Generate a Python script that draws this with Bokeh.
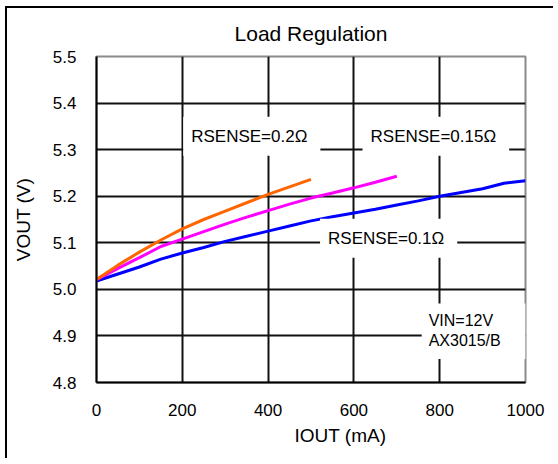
from bokeh.plotting import figure
from bokeh.models import Range1d, FixedTicker, Label, Title
from bokeh.embed import file_html
from bokeh.resources import INLINE

# ---- data ----
iout_02 = [0, 50, 100, 150, 200, 250, 300, 350, 400, 450, 500]
vout_02 = [5.021, 5.052, 5.080, 5.106, 5.130, 5.150, 5.168, 5.186, 5.204, 5.220, 5.236]

iout_015 = [0, 50, 100, 150, 200, 250, 300, 350, 400, 450, 500, 550, 600, 650, 700]
vout_015 = [5.021, 5.045, 5.068, 5.092, 5.108, 5.124, 5.140, 5.155, 5.169, 5.183,
            5.196, 5.207, 5.218, 5.230, 5.243]

iout_01 = [0, 50, 100, 150, 200, 250, 300, 350, 400, 450, 500, 550, 600, 650, 700,
           750, 800, 850, 900, 950, 1000]
vout_01 = [5.018, 5.033, 5.048, 5.065, 5.078, 5.090, 5.103, 5.114, 5.125, 5.136,
           5.147, 5.156, 5.164, 5.172, 5.181, 5.190, 5.200, 5.208, 5.216, 5.228, 5.233]

x_ticks = [0, 200, 400, 600, 800, 1000]
y_ticks = [4.8, 4.9, 5.0, 5.1, 5.2, 5.3, 5.4, 5.5]
y_tick_labels = {t: f"{t:.1f}" for t in y_ticks}

FONT = "'Liberation Sans Narrow', 'Liberation Sans', Arial, sans-serif"

p = figure(width=548, height=452, output_backend="svg", toolbar_location=None,
           x_range=Range1d(0, 1000), y_range=Range1d(4.8, 5.5),
           min_border_left=89, min_border_right=30, min_border_top=48, min_border_bottom=78,
           title="Load Regulation", margin=(6, 0, 0, 5))

p.styles = {"border-left": "2px solid black", "border-top": "2px solid black"}

p.title.align = "center"
p.title.text_font = FONT
p.title.text_font_size = "21px"
p.title.text_font_style = "normal"
p.title.text_color = "black"
p.title.text_line_height = 0.9
p.title.standoff = 23

p.outline_line_color = "#8a8a8a"
p.outline_line_width = 2

for ax in (p.xaxis[0], p.yaxis[0]):
    ax.axis_line_color = "black"
    ax.axis_line_width = 2
    ax.major_tick_line_color = None
    ax.minor_tick_line_color = None
    ax.major_tick_out = 0
    ax.major_tick_in = 0
    ax.major_label_text_font = FONT
    ax.major_label_text_font_size = "17px"
    ax.major_label_text_color = "black"

p.xaxis.ticker = FixedTicker(ticks=x_ticks)
p.yaxis.ticker = FixedTicker(ticks=y_ticks)
p.yaxis.major_label_overrides = y_tick_labels
p.xaxis.major_label_standoff = 21
p.yaxis.major_label_standoff = 20

p.yaxis.axis_label = "VOUT (V)"
p.yaxis.axis_label_text_font = FONT
p.yaxis.axis_label_text_font_size = "19px"
p.yaxis.axis_label_text_font_style = "normal"
p.yaxis.axis_label_text_color = "black"
p.yaxis.axis_label_standoff = 16

p.xgrid.ticker = FixedTicker(ticks=x_ticks[1:-1])
p.ygrid.ticker = FixedTicker(ticks=y_ticks[1:-1])
for g in (p.xgrid[0], p.ygrid[0]):
    g.grid_line_color = "#111111"
    g.grid_line_width = 2
    g.grid_line_alpha = 1.0

p.line(iout_01, vout_01, line_color="#0000FF", line_width=3)
p.line(iout_015, vout_015, line_color="#FF00FF", line_width=3)
p.line(iout_02, vout_02, line_color="#FF6600", line_width=3)

label_style = dict(text_font=FONT, text_font_size="17px", text_color="black",
                   background_fill_color="white", background_fill_alpha=1.0,
                   text_align="center", text_baseline="middle",
                   padding=dict(left=8, right=13, top=10, bottom=10))

p.add_layout(Label(x=362, y=5.329, text="RSENSE=0.2Ω", **label_style))
p.add_layout(Label(x=791, y=5.329, text="RSENSE=0.15Ω", **label_style))
p.add_layout(Label(x=681, y=5.110, text="RSENSE=0.1Ω", **label_style))

box_style = dict(label_style)
box_style["text_align"] = "left"
box_style["text_font_size"] = "16px"
box_style["padding"] = dict(left=7, right=25, top=8, bottom=10)
p.add_layout(Label(x=758, y=4.910, text="VIN=12V\nAX3015/B", **box_style))

# x axis label, placed right of centre as in the reference
xlab = Title(text="IOUT (mA)", align="left", offset=198, standoff=9,
             text_font=FONT, text_font_size="19px", text_font_style="normal",
             text_color="black")
p.add_layout(xlab, "below")

open("out.html", "w").write(file_html(p, INLINE))
